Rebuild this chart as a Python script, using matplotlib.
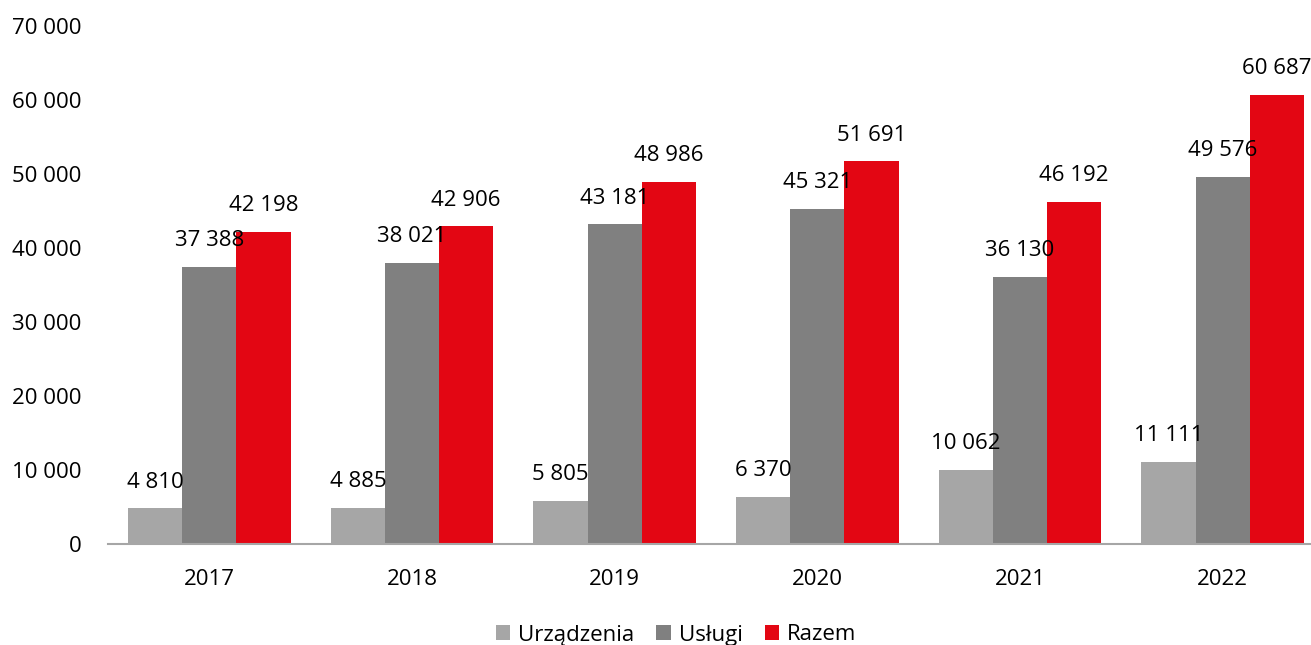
import matplotlib
matplotlib.use("Agg")
import matplotlib.pyplot as plt
import numpy as np
from matplotlib.patches import Patch

years = ["2017", "2018", "2019", "2020", "2021", "2022"]
urzadzenia = [4810, 4885, 5805, 6370, 10062, 11111]
uslugi = [37388, 38021, 43181, 45321, 36130, 49576]
razem = [42198, 42906, 48986, 51691, 46192, 60687]
series_names = ["Urządzenia", "Usługi", "Razem"]
colors = ["#a6a6a6", "#808080", "#e30613"]

plt.rcParams['font.family'] = ['Open Sans', 'DejaVu Sans']
FS = 16

W, H = 1311, 645
fig = plt.figure(figsize=(W / 100, H / 100), dpi=100)
ax = fig.add_axes([108 / W, 101 / H, 1216 / W, 518 / H])

x = np.arange(len(years))
w = 0.267
for i, (vals, c) in enumerate(zip([urzadzenia, uslugi, razem], colors)):
    pos = x + (i - 1) * w
    ax.bar(pos, vals, width=w, color=c, edgecolor="none", zorder=2)
    for p, v in zip(pos, vals):
        ax.annotate(f"{v:,}".replace(",", " "), (p, v), xytext=(0, 19),
                    textcoords="offset points", ha="center", va="center",
                    fontsize=FS, color="black", zorder=3)

ax.set_xlim(-0.5, len(years) - 0.5)
ax.set_ylim(0, 70000)
ax.set_yticks(np.arange(0, 70001, 10000))
ax.set_yticklabels([f"{int(t):,}".replace(",", " ") for t in np.arange(0, 70001, 10000)], fontsize=FS)
ax.set_xticks(x)
ax.set_xticklabels(years, fontsize=FS)
ax.tick_params(axis="y", length=0, pad=19)
ax.tick_params(axis="x", length=0, pad=18)
for s in ["top", "right", "left"]:
    ax.spines[s].set_visible(False)
ax.spines["bottom"].set_color("#a6a6a6")
ax.spines["bottom"].set_linewidth(1.5)

handles = [Patch(facecolor=c, edgecolor="none") for c in colors]
fig.legend(handles, series_names, loc="center", bbox_to_anchor=(676 / W, 10 / H),
           ncol=3, frameon=False, fontsize=FS, handlelength=0.65, handleheight=0.65,
           handletextpad=0.35, columnspacing=1.0)

fig.savefig("out.png", dpi=100)
